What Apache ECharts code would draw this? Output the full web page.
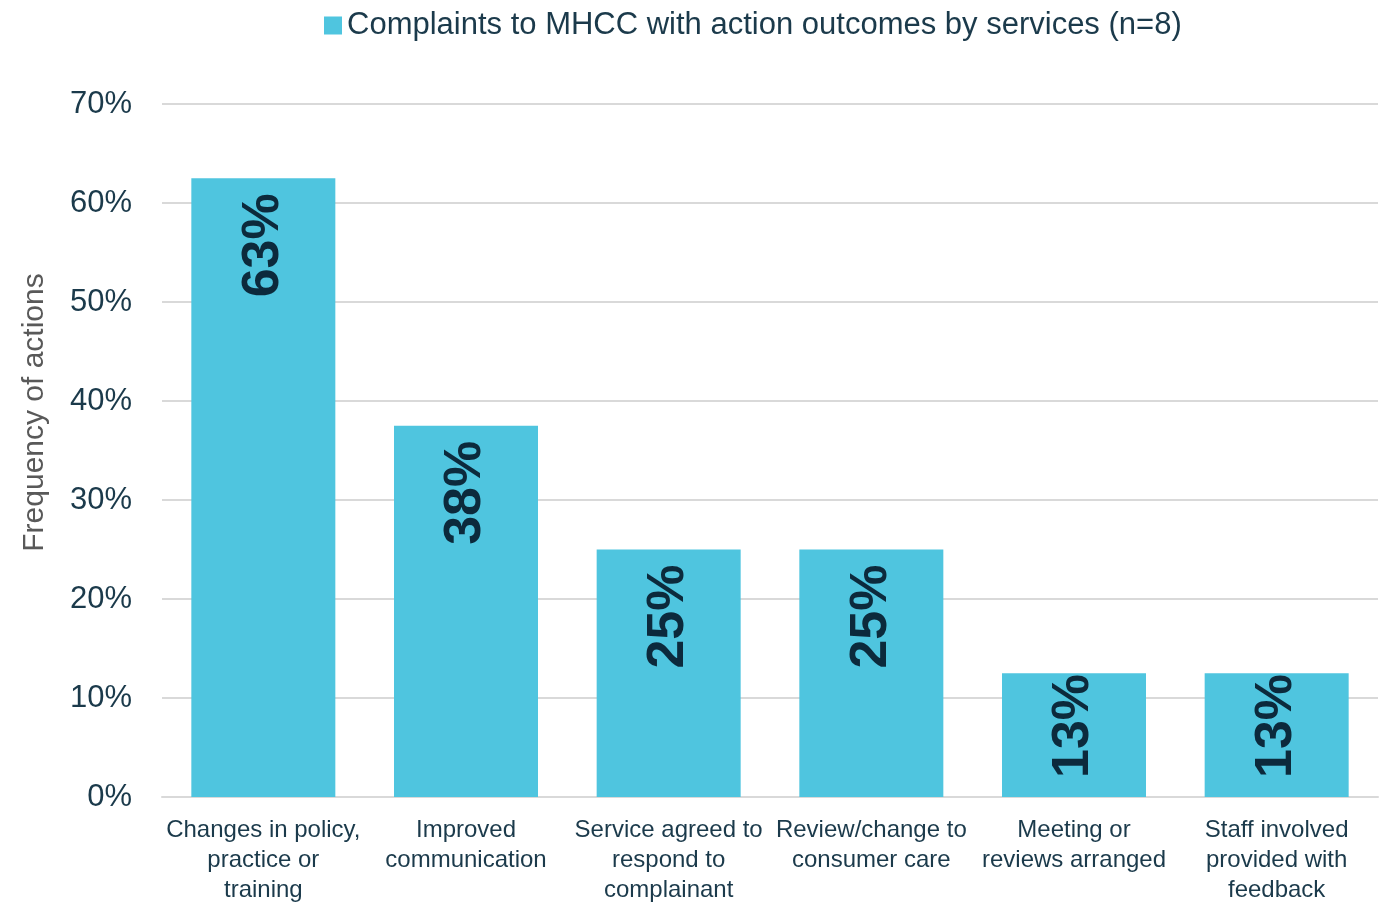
<!DOCTYPE html>
<html>
<head>
<meta charset="utf-8">
<script src="https://cdn.jsdelivr.net/npm/echarts@6/dist/echarts.min.js"></script>
<style>
  html, body { margin: 0; padding: 0; background: #fff; }
  #chart { width: 1380px; height: 902px; }
</style>
</head>
<body>
<div id="chart"></div>
<script>
// categories (x axis) and share of complaints with each action outcome
const categories = [
  'Changes in policy,\npractice or\ntraining',
  'Improved\ncommunication',
  'Service agreed to\nrespond to\ncomplainant',
  'Review/change to\nconsumer care',
  'Meeting or\nreviews arranged',
  'Staff involved\nprovided with\nfeedback'
];
const shares = [62.5, 37.5, 25, 25, 12.5, 12.5];
const seriesName = 'Complaints to MHCC with action outcomes by services (n=8)';

const textColor = '#1b3a4b';
const chart = echarts.init(document.getElementById('chart'));

const option = {
  animation: false,
  textStyle: { fontFamily: 'Liberation Sans, Arial, sans-serif' },
  legend: {
    top: 5,
    left: 319,
    itemWidth: 18,
    itemHeight: 18,
    itemGap: 8,
    icon: 'rect',
    textStyle: { fontSize: 31, color: textColor }
  },
  grid: { left: 162, right: 2, top: 104, bottom: 105, outerBoundsMode: 'none' },
  xAxis: {
    type: 'category',
    data: categories,
    axisTick: { show: false },
    axisLine: { lineStyle: { color: '#d9d9d9', width: 2 } },
    axisLabel: {
      fontSize: 24,
      lineHeight: 30,
      color: textColor,
      margin: 18,
      interval: 0
    }
  },
  yAxis: {
    type: 'value',
    min: 0,
    max: 70,
    interval: 10,
    name: 'Frequency of actions',
    nameLocation: 'middle',
    nameGap: 112,
    nameTextStyle: { fontSize: 30, color: '#595959', padding: [0, 0, 0, 76] },
    axisLine: { show: false },
    axisTick: { show: false },
    axisLabel: {
      fontSize: 31,
      color: textColor,
      margin: 30,
      formatter: v => v + '%'
    },
    splitLine: { lineStyle: { color: '#d9d9d9', width: 2 } }
  },
  series: [{
    name: seriesName,
    type: 'bar',
    data: shares,
    barWidth: 144,
    itemStyle: { color: '#4fc5df' },
    label: {
      show: true,
      position: 'insideTop',
      rotate: 90,
      align: 'right',
      verticalAlign: 'middle',
      distance: 15,
      fontSize: 52,
      fontWeight: 'bold',
      color: '#0c2a3c',
      formatter: p => Math.round(p.value) + '%'
    },
    // short bars: push the label up so it keeps clear of the axis
    labelLayout: p => {
      const over = p.labelRect.y + p.labelRect.height - (p.rect.y + p.rect.height) + 19;
      return over > 0 ? { dx: over } : {};
    }
  }]
};

chart.setOption(option);
</script>
</body>
</html>
